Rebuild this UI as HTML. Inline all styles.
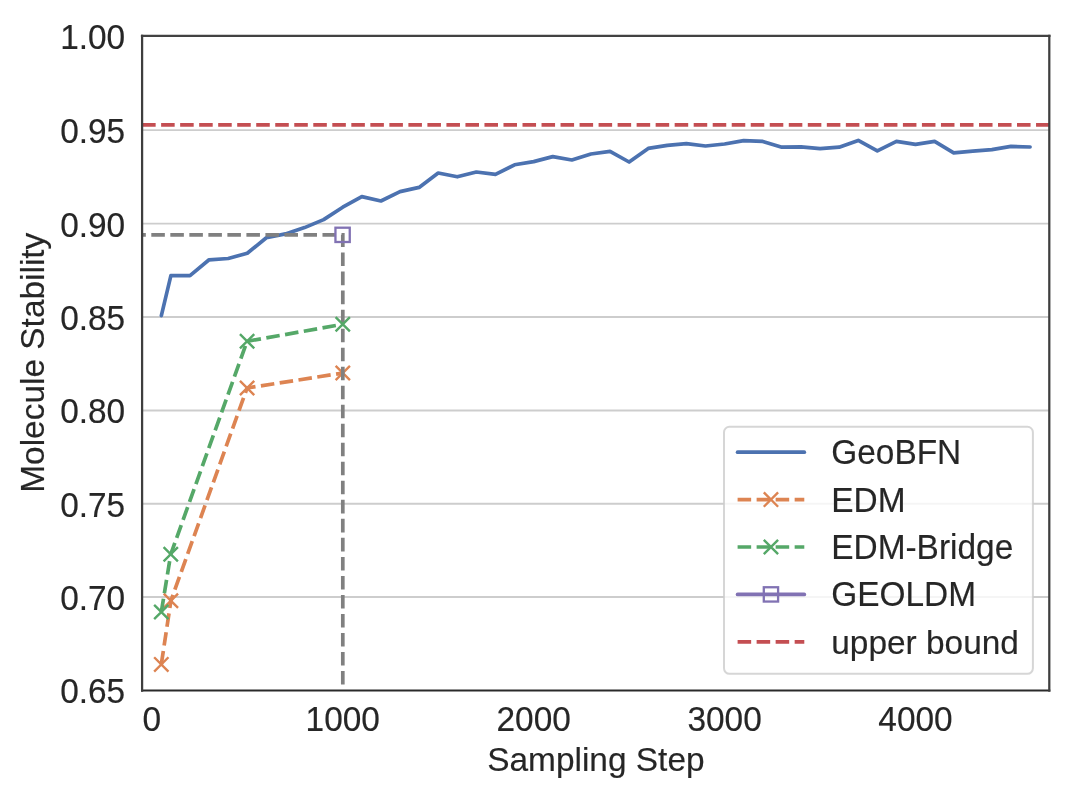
<!DOCTYPE html>
<html><head><meta charset="utf-8"><title>chart</title>
<style>html,body{margin:0;padding:0;background:#fff;}svg{display:block;will-change:transform;}text{font-family:"Liberation Sans",sans-serif;font-size:33.44px;fill:#262626;stroke:#262626;stroke-width:0.15px;}</style></head><body>
<svg width="1080" height="798" viewBox="0 0 1080 798">
<rect width="1080" height="798" fill="#fff"/>
<clipPath id="c"><rect x="142.1" y="35.9" width="907.1999999999999" height="654.6"/></clipPath>
<line x1="142.1" x2="1049.3" y1="130.1" y2="130.1" stroke="#cdcdcd" stroke-width="1.9"/>
<line x1="142.1" x2="1049.3" y1="223.65" y2="223.65" stroke="#cdcdcd" stroke-width="1.9"/>
<line x1="142.1" x2="1049.3" y1="316.95" y2="316.95" stroke="#cdcdcd" stroke-width="1.9"/>
<line x1="142.1" x2="1049.3" y1="410.5" y2="410.5" stroke="#cdcdcd" stroke-width="1.9"/>
<line x1="142.1" x2="1049.3" y1="503.75" y2="503.75" stroke="#cdcdcd" stroke-width="1.9"/>
<line x1="142.1" x2="1049.3" y1="597.0" y2="597.0" stroke="#cdcdcd" stroke-width="1.9"/>
<g clip-path="url(#c)" fill="none">
<polyline points="161.35,315.60 170.89,275.60 189.99,275.60 209.08,259.80 228.17,258.50 247.26,253.30 266.36,237.80 285.45,233.90 304.54,227.60 323.64,219.60 342.73,207.20 361.82,196.60 380.92,201.00 400.01,191.60 419.10,187.40 438.19,173.00 457.29,176.80 476.38,172.00 495.47,174.40 514.57,164.80 533.66,161.60 552.75,156.60 571.85,160.00 590.94,154.00 610.03,151.40 629.12,162.00 648.22,148.40 667.31,145.40 686.40,143.60 705.50,146.00 724.59,144.00 743.68,140.60 762.78,141.40 781.87,147.20 800.96,146.80 820.06,148.60 839.15,147.20 858.24,140.40 877.33,150.80 896.43,141.40 915.52,144.40 934.61,141.40 953.71,152.80 972.80,151.20 991.89,149.60 1010.98,146.40 1030.08,147.00" stroke="#4c72b0" stroke-width="3.7" stroke-linejoin="round" stroke-linecap="round"/>
<polyline points="161.30,664.40 170.90,600.80 247.10,388.00 342.80,373.05" stroke="#dd8452" stroke-width="3.7" stroke-dasharray="13.55 5.47" stroke-linejoin="round"/>
<path d="M154.15,657.25L168.45,671.55M154.15,671.55L168.45,657.25" stroke="#dd8452" stroke-width="2.4" fill="none"/>
<path d="M163.75,593.65L178.05,607.95M163.75,607.95L178.05,593.65" stroke="#dd8452" stroke-width="2.4" fill="none"/>
<path d="M239.95,380.85L254.25,395.15M239.95,395.15L254.25,380.85" stroke="#dd8452" stroke-width="2.4" fill="none"/>
<path d="M335.65,365.90L349.95,380.20M335.65,380.20L349.95,365.90" stroke="#dd8452" stroke-width="2.4" fill="none"/>
<polyline points="132.28,234.85 342.8,234.85 342.8,700" stroke="#808080" stroke-width="3.7" stroke-dasharray="13.55 5.47" stroke-linejoin="miter"/>
<polyline points="161.30,612.05 170.75,554.30 247.10,341.30 342.75,324.30" stroke="#55a868" stroke-width="3.7" stroke-dasharray="13.55 5.47" stroke-linejoin="round"/>
<path d="M154.15,604.90L168.45,619.20M154.15,619.20L168.45,604.90" stroke="#55a868" stroke-width="2.4" fill="none"/>
<path d="M163.60,547.15L177.90,561.45M163.60,561.45L177.90,547.15" stroke="#55a868" stroke-width="2.4" fill="none"/>
<path d="M239.95,334.15L254.25,348.45M239.95,348.45L254.25,334.15" stroke="#55a868" stroke-width="2.4" fill="none"/>
<path d="M335.60,317.15L349.90,331.45M335.60,331.45L349.90,317.15" stroke="#55a868" stroke-width="2.4" fill="none"/>
<line x1="142.1" x2="1049.3" y1="124.8" y2="124.8" stroke="#c44e52" stroke-width="3.7" stroke-dasharray="13.55 5.47"/>
<rect x="335.45" y="227.70" width="14.3" height="14.3" fill="none" stroke="#8172b3" stroke-width="2.3"/>
</g>
<g stroke-linecap="square" fill="none">
<line x1="142.1" x2="1049.3" y1="35.9" y2="35.9" stroke="#424242" stroke-width="2.4"/>
<line x1="142.1" x2="1049.3" y1="690.5" y2="690.5" stroke="#2a2a2a" stroke-width="2.1"/>
<line x1="142.1" x2="142.1" y1="35.9" y2="690.5" stroke="#3e3e3e" stroke-width="2.25"/>
<line x1="1049.3" x2="1049.3" y1="35.9" y2="690.5" stroke="#3e3e3e" stroke-width="2.25"/>
</g>
<text transform="translate(125.20,48.60) scale(1.0,1.075)" text-anchor="end">1.00</text>
<text transform="translate(125.20,143.00) scale(1.0,1.075)" text-anchor="end">0.95</text>
<text transform="translate(125.20,236.55) scale(1.0,1.075)" text-anchor="end">0.90</text>
<text transform="translate(125.20,329.80) scale(1.0,1.075)" text-anchor="end">0.85</text>
<text transform="translate(125.20,423.30) scale(1.0,1.075)" text-anchor="end">0.80</text>
<text transform="translate(125.20,516.60) scale(1.0,1.075)" text-anchor="end">0.75</text>
<text transform="translate(125.20,609.90) scale(1.0,1.075)" text-anchor="end">0.70</text>
<text transform="translate(125.20,703.35) scale(1.0,1.075)" text-anchor="end">0.65</text>
<text transform="translate(151.80,731.10) scale(1.0,1.075)" text-anchor="middle">0</text>
<text transform="translate(342.73,731.10) scale(1.0,1.075)" text-anchor="middle">1000</text>
<text transform="translate(533.66,731.10) scale(1.0,1.075)" text-anchor="middle">2000</text>
<text transform="translate(724.59,731.10) scale(1.0,1.075)" text-anchor="middle">3000</text>
<text transform="translate(915.52,731.10) scale(1.0,1.075)" text-anchor="middle">4000</text>
<text x="595.9" y="771.4" text-anchor="middle">Sampling Step</text>
<text transform="translate(43.6,362.7) rotate(-90)" text-anchor="middle">Molecule Stability</text>
<rect x="724.0" y="426.8" width="308.9" height="247.0" rx="5.5" ry="5.5" fill="#ffffff" fill-opacity="0.8" stroke="#cccccc" stroke-opacity="0.8" stroke-width="2.0"/>
<g fill="none">
<line x1="737.6" x2="804.3" y1="452.2" y2="452.2" stroke="#4c72b0" stroke-width="3.7" stroke-linecap="round"/>
<line x1="737.6" x2="804.3" y1="499.6" y2="499.6" stroke="#dd8452" stroke-width="3.7" stroke-dasharray="13.55 5.47"/>
<path d="M763.80,492.45L778.10,506.75M763.80,506.75L778.10,492.45" stroke="#dd8452" stroke-width="2.4" fill="none"/>
<line x1="737.6" x2="804.3" y1="547.0" y2="547.0" stroke="#55a868" stroke-width="3.7" stroke-dasharray="13.55 5.47"/>
<path d="M763.80,539.85L778.10,554.15M763.80,554.15L778.10,539.85" stroke="#55a868" stroke-width="2.4" fill="none"/>
<line x1="737.6" x2="804.3" y1="594.4" y2="594.4" stroke="#8172b3" stroke-width="3.7" stroke-linecap="round"/>
<rect x="763.80" y="587.25" width="14.3" height="14.3" fill="none" stroke="#8172b3" stroke-width="2.3"/>
<line x1="737.6" x2="804.3" y1="641.8" y2="641.8" stroke="#c44e52" stroke-width="3.7" stroke-dasharray="13.55 5.47"/>
</g>
<text transform="translate(831.20,464.10) scale(1.0,1.075)" text-anchor="start">GeoBFN</text>
<text transform="translate(831.20,511.50) scale(1.0,1.075)" text-anchor="start">EDM</text>
<text transform="translate(831.20,558.90) scale(1.0,1.075)" text-anchor="start">EDM-Bridge</text>
<text transform="translate(831.20,606.30) scale(1.0,1.075)" text-anchor="start">GEOLDM</text>
<text transform="translate(831.20,653.70) scale(1.0,1.0)" text-anchor="start">upper bound</text>
</svg></body></html>
